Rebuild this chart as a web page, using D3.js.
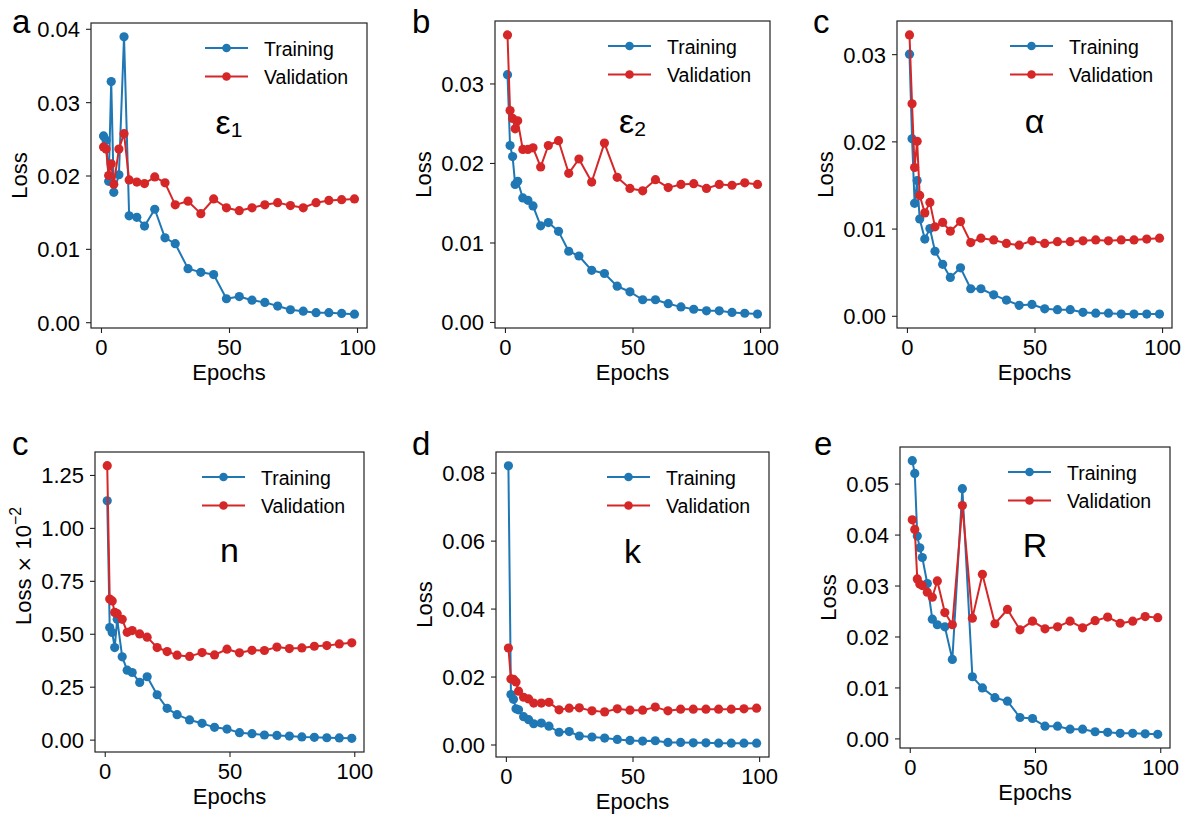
<!DOCTYPE html>
<html>
<head>
<meta charset="utf-8">
<script src="https://cdn.jsdelivr.net/npm/d3@7"></script>
<style>
  body { margin: 0; background: #fff; }
  text { font-family: "Liberation Sans", Arial, sans-serif; fill: #000; }
</style>
</head>
<body>
<svg id="fig" width="1187" height="816"></svg>
<script>
// Epochs at which the losses were logged
const epochs = [1, 2, 3, 4, 5, 7, 9, 11, 14, 17, 21, 25, 29, 34, 39, 44, 49, 54, 59, 64, 69, 74, 79, 84, 89, 94, 99];
const xTicks = [0, 50, 100];

// ε1
const eps1Train = [0.0254, 0.0248, 0.0192, 0.0328, 0.0177, 0.0201, 0.0389, 0.0145, 0.0143, 0.0131, 0.0154, 0.0115, 0.0107, 0.0073, 0.0068, 0.0065, 0.0032, 0.0035, 0.0030, 0.0027, 0.0022, 0.0017, 0.0015, 0.0013, 0.0013, 0.0012, 0.0011];
const eps1Val   = [0.0239, 0.0236, 0.0200, 0.0216, 0.0188, 0.0236, 0.0257, 0.0194, 0.0191, 0.0189, 0.0198, 0.0190, 0.0160, 0.0165, 0.0148, 0.0168, 0.0156, 0.0152, 0.0156, 0.0160, 0.0163, 0.0159, 0.0156, 0.0163, 0.0166, 0.0167, 0.0168];
const eps1Ticks = [0, 0.01, 0.02, 0.03, 0.04];

// ε2
const eps2Train = [0.0311, 0.0222, 0.0208, 0.0173, 0.0177, 0.0156, 0.0153, 0.0146, 0.0121, 0.0125, 0.0114, 0.0089, 0.0083, 0.0065, 0.0061, 0.0045, 0.0038, 0.0028, 0.0028, 0.0023, 0.0019, 0.0016, 0.0014, 0.0014, 0.0012, 0.0011, 0.0010];
const eps2Val   = [0.0361, 0.0266, 0.0256, 0.0243, 0.0253, 0.0217, 0.0217, 0.0219, 0.0195, 0.0222, 0.0228, 0.0187, 0.0205, 0.0176, 0.0225, 0.0182, 0.0168, 0.0165, 0.0179, 0.0169, 0.0173, 0.0174, 0.0168, 0.0173, 0.0172, 0.0175, 0.0173];
const eps2Ticks = [0, 0.01, 0.02, 0.03];

// α
const alphaTrain = [0.0300, 0.0203, 0.0129, 0.0155, 0.0111, 0.0088, 0.0100, 0.0074, 0.0059, 0.0044, 0.0055, 0.0031, 0.0031, 0.0024, 0.0018, 0.0012, 0.0013, 0.0008, 0.0007, 0.0007, 0.0004, 0.0003, 0.0003, 0.0002, 0.0002, 0.0002, 0.0002];
const alphaVal   = [0.0322, 0.0243, 0.0170, 0.0200, 0.0138, 0.0118, 0.0130, 0.0102, 0.0107, 0.0097, 0.0108, 0.0084, 0.0089, 0.0087, 0.0083, 0.0081, 0.0086, 0.0083, 0.0085, 0.0085, 0.0086, 0.0087, 0.0086, 0.0087, 0.0087, 0.0088, 0.0089];
const alphaTicks = [0, 0.01, 0.02, 0.03];

// n (in units of 10^-2)
const nTrain = [1.128, 0.529, 0.506, 0.435, 0.568, 0.391, 0.328, 0.317, 0.270, 0.297, 0.212, 0.148, 0.118, 0.093, 0.077, 0.058, 0.050, 0.033, 0.028, 0.022, 0.020, 0.017, 0.013, 0.011, 0.009, 0.008, 0.006];
const nVal   = [1.294, 0.664, 0.655, 0.601, 0.595, 0.568, 0.507, 0.515, 0.499, 0.484, 0.435, 0.416, 0.399, 0.393, 0.411, 0.400, 0.427, 0.410, 0.422, 0.421, 0.437, 0.430, 0.433, 0.441, 0.444, 0.452, 0.457];
const nTicks = [0, 0.25, 0.5, 0.75, 1.0, 1.25];

// k
const kTrain = [0.0820, 0.0147, 0.0133, 0.0105, 0.0102, 0.0082, 0.0073, 0.0061, 0.0063, 0.0054, 0.0036, 0.0038, 0.0025, 0.0022, 0.0019, 0.0015, 0.0012, 0.0010, 0.0011, 0.0006, 0.0006, 0.0005, 0.0005, 0.0004, 0.0004, 0.0004, 0.0004];
const kVal   = [0.0284, 0.0193, 0.0192, 0.0184, 0.0157, 0.0139, 0.0134, 0.0122, 0.0122, 0.0124, 0.0102, 0.0107, 0.0108, 0.0099, 0.0096, 0.0105, 0.0101, 0.0101, 0.0110, 0.0099, 0.0104, 0.0104, 0.0104, 0.0104, 0.0104, 0.0105, 0.0107];
const kTicks = [0, 0.02, 0.04, 0.06, 0.08];

// R
const rTrain = [0.0545, 0.0520, 0.0397, 0.0374, 0.0355, 0.0304, 0.0234, 0.0223, 0.0219, 0.0155, 0.0490, 0.0121, 0.0099, 0.0080, 0.0073, 0.0041, 0.0039, 0.0024, 0.0024, 0.0018, 0.0018, 0.0013, 0.0012, 0.0010, 0.0010, 0.0009, 0.0008];
const rVal   = [0.0429, 0.0410, 0.0313, 0.0303, 0.0300, 0.0287, 0.0277, 0.0309, 0.0247, 0.0223, 0.0457, 0.0236, 0.0322, 0.0225, 0.0253, 0.0213, 0.0230, 0.0215, 0.0219, 0.0230, 0.0217, 0.0231, 0.0238, 0.0226, 0.0230, 0.0239, 0.0237];
const rTicks = [0, 0.01, 0.02, 0.03, 0.04, 0.05];

const seriesNames = ["Training", "Validation"];
const seriesColors = ["#1f77b4", "#d62728"];

// Panel layout (axes boxes in pixels)
const panels = [
  { letter: "a", sym: "ε", sub: "1", train: eps1Train, val: eps1Val, ticks: eps1Ticks, ylabel: "Loss", box: { l: 91, r: 367, t: 23, b: 328 }, lx: 12, ly: 33 },
  { letter: "b", sym: "ε", sub: "2", train: eps2Train, val: eps2Val, ticks: eps2Ticks, ylabel: "Loss", box: { l: 495, r: 770, t: 21, b: 328 }, lx: 412, ly: 33 },
  { letter: "c", sym: "α", sub: "", train: alphaTrain, val: alphaVal, ticks: alphaTicks, ylabel: "Loss", box: { l: 897, r: 1172, t: 21, b: 328 }, lx: 813, ly: 33 },
  { letter: "c", sym: "n", sub: "", train: nTrain, val: nVal, ticks: nTicks, ylabel: "Loss", yexp: true, box: { l: 95, r: 364, t: 452, b: 752 }, lx: 12, ly: 455 },
  { letter: "d", sym: "k", sub: "", train: kTrain, val: kVal, ticks: kTicks, ylabel: "Loss", box: { l: 496, r: 769, t: 452, b: 757 }, lx: 412, ly: 455 },
  { letter: "e", sym: "R", sub: "", train: rTrain, val: rVal, ticks: rTicks, ylabel: "Loss", box: { l: 900, r: 1170, t: 447, b: 748 }, lx: 814, ly: 455 }
];

const svg = d3.select("#fig");
const frameColor = "#222";
const tickFont = 22, labelFont = 22, legendFont = 19.5;

panels.forEach(p => {
  const { l, r, t, b } = p.box;
  const g = svg.append("g");

  // x: epochs with 5% padding
  const xs = d3.extent(epochs), xpad = (xs[1] - xs[0]) * 0.05;
  const x = d3.scaleLinear().domain([xs[0] - xpad, xs[1] + xpad]).range([l, r]);
  const all = p.train.concat(p.val);
  const ys = d3.extent(all), ypad = (ys[1] - ys[0]) * 0.05;
  const y = d3.scaleLinear().domain([ys[0] - ypad, ys[1] + ypad]).range([b, t]);

  // axes
  const xAxis = d3.axisBottom(x).tickValues(xTicks).tickSize(5).tickPadding(5).tickFormat(d3.format("d"));
  const yAxis = d3.axisLeft(y).tickValues(p.ticks).tickSize(5).tickPadding(6).tickFormat(d3.format(".2f"));

  const gx = g.append("g").attr("transform", `translate(0,${b})`).call(xAxis);
  const gy = g.append("g").attr("transform", `translate(${l},0)`).call(yAxis);
  [gx, gy].forEach(ax => {
    ax.select(".domain").remove();
    ax.selectAll(".tick line").attr("stroke", frameColor).attr("stroke-width", 1.1);
    ax.selectAll(".tick text").attr("font-size", tickFont).attr("fill", "#000")
      .attr("font-family", '"Liberation Sans", Arial, sans-serif');
  });
  gx.selectAll(".tick text").attr("dy", "0.78em");
  gy.selectAll(".tick text").attr("dy", "0.36em");

  // series
  const line = d3.line().x((d, i) => x(epochs[i])).y(d => y(d));
  [p.train, p.val].forEach((vals, si) => {
    g.append("path").datum(vals).attr("d", line)
      .attr("fill", "none").attr("stroke", seriesColors[si]).attr("stroke-width", 2)
      .attr("stroke-linejoin", "round");
    g.append("g").selectAll("circle").data(vals).join("circle")
      .attr("cx", (d, i) => x(epochs[i])).attr("cy", d => y(d)).attr("r", 4.6)
      .attr("fill", seriesColors[si]);
  });

  // frame
  g.append("rect").attr("x", l).attr("y", t).attr("width", r - l).attr("height", b - t)
    .attr("fill", "none").attr("stroke", frameColor).attr("stroke-width", 1.2);

  // axis titles
  g.append("text").attr("x", (l + r) / 2).attr("y", b + 52).attr("text-anchor", "middle")
    .attr("font-size", labelFont).text("Epochs");
  const yl = g.append("text")
    .attr("transform", `translate(${l - 64},${(t + b) / 2}) rotate(-90)`)
    .attr("font-size", labelFont);
  if (p.yexp) {
    yl.attr("x", -23).attr("text-anchor", "start");
    yl.append("tspan").text("Loss ");
    yl.append("tspan").attr("font-family", "DejaVu Sans").attr("font-size", "0.9em").text("× ");
    yl.append("tspan").text("10");
    yl.append("tspan").attr("font-size", "0.72em").attr("dy", "-0.62em").text("−2");
  } else {
    yl.attr("text-anchor", "middle").text(p.ylabel);
  }

  // legend
  const legX = r - 162;
  seriesNames.forEach((name, si) => {
    const ly = t + 25 + si * 28.5;
    g.append("line").attr("x1", legX).attr("x2", legX + 43).attr("y1", ly).attr("y2", ly)
      .attr("stroke", seriesColors[si]).attr("stroke-width", 2);
    g.append("circle").attr("cx", legX + 21.5).attr("cy", ly).attr("r", 4.3).attr("fill", seriesColors[si]);
    g.append("text").attr("x", legX + 59).attr("y", ly + 7.5).attr("font-size", legendFont).text(name);
  });

  // quantity label inside the axes
  const q = g.append("text").attr("x", (l + r) / 2).attr("y", t + 0.365 * (b - t))
    .attr("text-anchor", "middle").attr("font-size", 34);
  q.append("tspan").text(p.sym);
  if (p.sub) q.append("tspan").attr("font-size", "0.62em").attr("dy", "0.12em").text(p.sub);

  // panel letter
  g.append("text").attr("x", p.lx).attr("y", p.ly).attr("font-size", 33).text(p.letter);
});
</script>
</body>
</html>
